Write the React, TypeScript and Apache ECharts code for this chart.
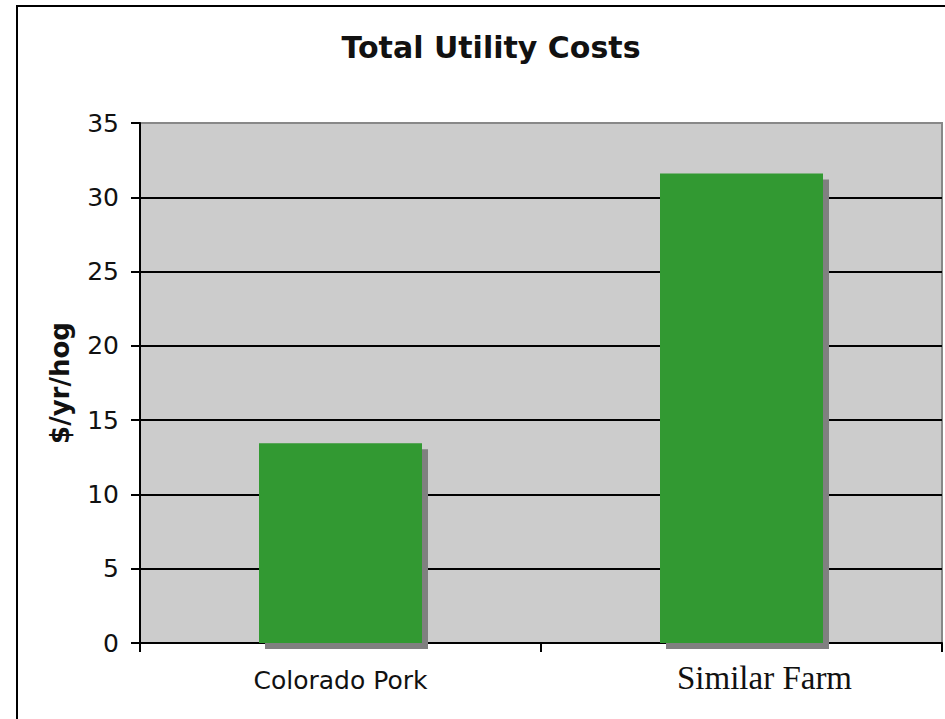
import React, { useEffect, useRef } from "react";
import * as echarts from "echarts";

const title = "Total Utility Costs";
const yAxisName = "$/yr/hog";
const categories = ["Colorado Pork", "Similar Farm"];
const costs = [13.45, 31.6];
const yTicks = { min: 0, max: 35, interval: 5 };

export default function App() {
  const ref = useRef<HTMLDivElement>(null);
  useEffect(() => {
    if (!ref.current) return;
    const chart = echarts.init(ref.current, null, { renderer: "svg" });
    const nLines = (yTicks.max - yTicks.min) / yTicks.interval + 1;
    const gridColors = Array.from({ length: nLines }, (_, i) =>
      i === nLines - 1 ? "#888888" : "#000000"
    );
    chart.setOption({
      animation: false,
      backgroundColor: "#ffffff",
      title: {
        text: title,
        left: 486,
        top: 27,
        textAlign: "center",
        textStyle: {
          fontFamily: "DejaVu Sans",
          fontWeight: "bold",
          fontSize: 30,
          lineHeight: 30,
          color: "#111",
        },
      },
      graphic: [
        {
          type: "rect",
          z: -10,
          shape: { x: 17, y: 6, width: 2000, height: 2000 },
          style: { fill: "none", stroke: "#000", lineWidth: 2 },
        },
      ],
      grid: {
        left: 140,
        top: 123,
        right: 3,
        bottom: 76,
        show: true,
        backgroundColor: "#cccccc",
        borderColor: "#888888",
        borderWidth: 2,
      },
      xAxis: {
        type: "category",
        data: categories,
        axisLine: { show: true, lineStyle: { color: "#000", width: 2 } },
        axisTick: { show: true, length: 9, lineStyle: { color: "#000", width: 2 } },
        axisLabel: {
          margin: 26,
          color: "#111",
          formatter: (v: string) => (v === "Similar Farm" ? `{s|${v}}` : `{c|${v}}`),
          rich: {
            c: { fontFamily: "DejaVu Sans", fontSize: 25, lineHeight: 23, color: "#111" },
            s: {
              fontFamily: "Liberation Serif",
              fontSize: 33,
              lineHeight: 17,
              color: "#111",
              padding: [0, 0, 0, 46],
            },
          },
        },
      },
      yAxis: {
        type: "value",
        min: yTicks.min,
        max: yTicks.max,
        interval: yTicks.interval,
        name: yAxisName,
        nameLocation: "middle",
        nameGap: 67,
        nameTextStyle: {
          fontFamily: "DejaVu Sans",
          fontWeight: "bold",
          fontSize: 26,
          color: "#111",
        },
        axisLine: { show: true, lineStyle: { color: "#000", width: 2 } },
        axisTick: { show: true, length: 9, lineStyle: { color: "#000", width: 2 } },
        axisLabel: {
          margin: 21,
          fontFamily: "DejaVu Sans",
          fontSize: 25,
          color: "#111",
        },
        splitLine: { show: true, lineStyle: { color: gridColors, width: 2 } },
      },
      series: [
        {
          type: "bar",
          data: costs,
          barWidth: 163,
          itemStyle: {
            color: "#339933",
            shadowColor: "#808080",
            shadowOffsetX: 6,
            shadowOffsetY: 6,
            shadowBlur: 0,
          },
        },
      ],
    });
    return () => chart.dispose();
  }, []);
  return (
    <div
      ref={ref}
      style={{ position: "fixed", left: 0, top: 0, width: 945, height: 719 }}
    />
  );
}
